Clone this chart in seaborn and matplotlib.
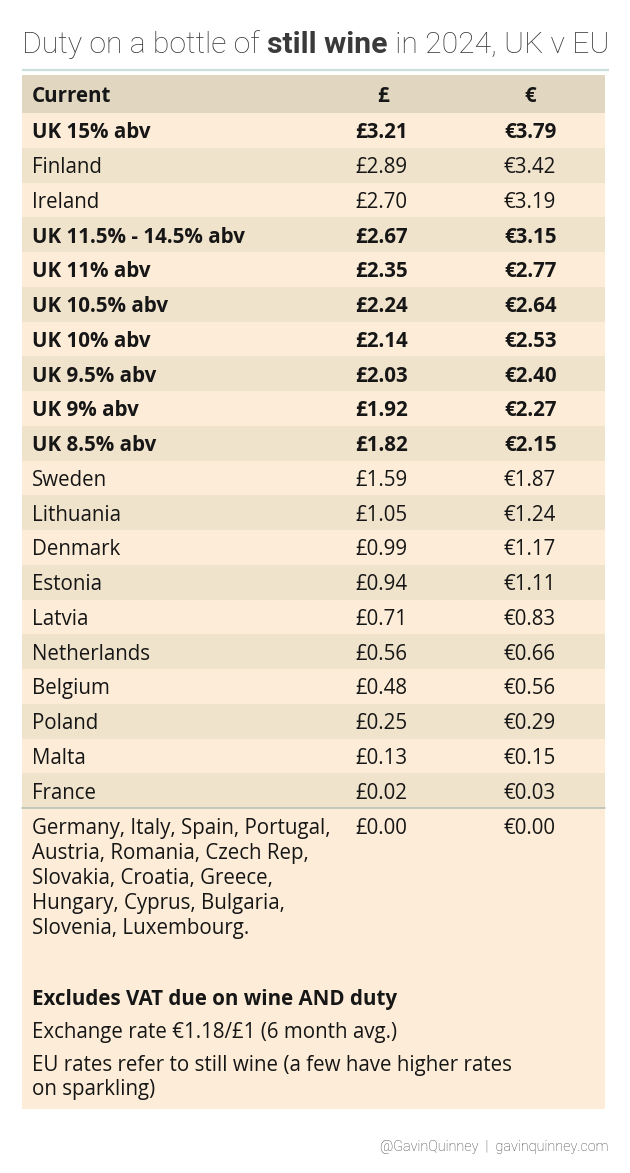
import matplotlib
matplotlib.use("Agg")
import matplotlib.pyplot as plt
import seaborn as sns

# --- data ---
title_runs = [("Duty on a bottle of ", "light"),
              ("still wine", "bold"),
              (" in 2024, UK v EU", "light")]
header = ["Current", "£", "€"]
countries = ["UK 15% abv", "Finland", "Ireland", "UK 11.5% - 14.5% abv",
             "UK 11% abv", "UK 10.5% abv", "UK 10% abv", "UK 9.5% abv",
             "UK 9% abv", "UK 8.5% abv", "Sweden", "Lithuania", "Denmark",
             "Estonia", "Latvia", "Netherlands", "Belgium", "Poland",
             "Malta", "France"]
gbp = [3.21, 2.89, 2.70, 2.67, 2.35, 2.24, 2.14, 2.03, 1.92, 1.82,
       1.59, 1.05, 0.99, 0.94, 0.71, 0.56, 0.48, 0.25, 0.13, 0.02]
eur = [3.79, 3.42, 3.19, 3.15, 2.77, 2.64, 2.53, 2.40, 2.27, 2.15,
       1.87, 1.24, 1.17, 1.11, 0.83, 0.66, 0.56, 0.29, 0.15, 0.03]
zero_countries = ["Germany, Italy, Spain, Portugal,",
                  "Austria, Romania, Czech Rep,",
                  "Slovakia, Croatia, Greece,",
                  "Hungary, Cyprus, Bulgaria,",
                  "Slovenia, Luxembourg."]
zero_gbp = 0.00
zero_eur = 0.00
notes = ["Excludes VAT due on wine AND duty",
         "Exchange rate €1.18/£1 (6 month avg.)",
         "EU rates refer to still wine (a few have higher rates",
         "on sparkling)"]
footer = "@GavinQuinney  |  gavinquinney.com"

# --- style ---
sns.set_theme(style="white")
BODY = ["Open Sans", "DejaVu Sans"]
plt.rcParams["font.family"] = BODY

HEAD_BG = "#E1D7C1"
LIGHT_BG = "#FDEDD8"
DARK_BG = "#F0E3CC"
TEXT = "#161616"
FS = 14.8
BOLD = 700

W, H = 630, 1173
fig = plt.figure(figsize=(W / 100, H / 100), dpi=100)

# pixel axes for the frame
ax = fig.add_axes([0, 0, 1, 1])
ax.set_xlim(0, W)
ax.set_ylim(H, 0)
ax.axis("off")

left, right = 22, 605
head_top, head_bot = 75, 113
rows_bot = 808
block_bot = 1109

# title with mixed weights
renderer = fig.canvas.get_renderer()
x = 22
for txt, wt in title_runs:
    t = ax.text(x, 53, txt, family=["Roboto", "DejaVu Sans"], weight=wt,
                fontsize=21.7, color="#3a3a3a", va="baseline", ha="left")
    bb = t.get_window_extent(renderer)
    x += bb.width
ax.plot([22, 609], [70, 70], color="#CADEDC", lw=1.6, solid_capstyle="butt")

# header
ax.add_patch(plt.Rectangle((left, head_top), right - left, head_bot - head_top,
                           color=HEAD_BG, lw=0))
hy = (head_top + head_bot) / 2
ax.text(32, hy, header[0], weight=BOLD, fontsize=FS, color=TEXT,
        va="center_baseline")
ax.text(383, hy, header[1], weight=BOLD, fontsize=FS, color=TEXT,
        va="center_baseline", ha="center")
ax.text(530, hy, header[2], weight=BOLD, fontsize=FS, color=TEXT,
        va="center_baseline", ha="center")

# bottom block (zero-duty countries + notes)
ax.add_patch(plt.Rectangle((left, rows_bot), right - left, block_bot - rows_bot,
                           color=LIGHT_BG, lw=0))
for i, line in enumerate(zero_countries):
    ax.text(32, 826 + 25 * i, line, fontsize=FS, color=TEXT,
            va="center_baseline")
ax.text(355, 826, f"£{zero_gbp:.2f}", fontsize=FS, color=TEXT,
        va="center_baseline")
ax.text(504, 826, f"€{zero_eur:.2f}", fontsize=FS, color=TEXT,
        va="center_baseline")

note_y = [997, 1030, 1063, 1087]
for i, line in enumerate(notes):
    ax.text(32, note_y[i], line, fontsize=FS, color=TEXT,
            weight=BOLD if i == 0 else "normal", va="center_baseline")

ax.text(608, 1145, footer, family=["Roboto", "DejaVu Sans"], weight="light",
        fontsize=10.4, color="#3f3f3f", ha="right", va="center_baseline")

# table rows drawn through seaborn's categorical axis
ax_rows = fig.add_axes([left / W, 1 - rows_bot / H, (right - left) / W,
                        (rows_bot - head_bot) / H])
ax_rows.patch.set_alpha(0)
row_colors = [LIGHT_BG if i % 2 == 0 else DARK_BG for i in range(len(countries))]
sns.barplot(x=[right - left] * len(countries), y=countries, hue=countries,
            palette=row_colors, saturation=1, orient="h", width=1.0,
            legend=False, linewidth=0, ax=ax_rows)
ax_rows.set_xlim(0, right - left)
ax_rows.set_ylim(len(countries) - 0.5, -0.5)
ax_rows.axis("off")

for i, name in enumerate(countries):
    wt = BOLD if name.startswith("UK") else "normal"
    ax_rows.text(32 - left, i, name, weight=wt, fontsize=FS, color=TEXT,
                 va="center_baseline")
    ax_rows.text(355 - left, i, f"£{gbp[i]:.2f}", weight=wt, fontsize=FS,
                 color=TEXT, va="center_baseline")
    ax_rows.text(504 - left, i, f"€{eur[i]:.2f}", weight=wt, fontsize=FS,
                 color=TEXT, va="center_baseline")
ax_rows.axhline(len(countries) - 0.5, color="#B8C3B8", lw=1.2, clip_on=False)

fig.savefig("out.png", dpi=100)
